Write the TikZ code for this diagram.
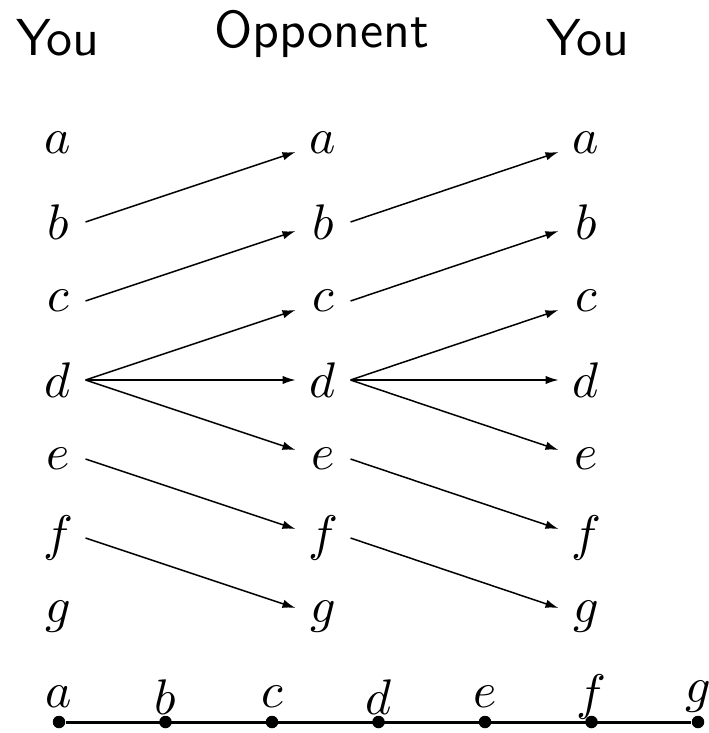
\documentclass[tikz,border=0pt]{standalone}
\usepackage{amsmath, amssymb}
\usetikzlibrary{arrows.meta}

\begin{document}
\begin{tikzpicture}[x=0.2pt, y=-0.2pt,
    spot/.style={minimum width=10.6pt, inner xsep=0pt},
    move/.style={line width=0.3pt, -{Latex[length=2.6pt, width=1.7pt]}},
    player/.style={font=\sffamily\fontsize{10.4pt}{12pt}\selectfont, anchor=base},
    vertex/.style={circle, fill, inner sep=0pt, minimum size=2.5pt}]
    \useasboundingbox (0,0) rectangle (708,733);

    % Players
    \node[player] (you1) at (58,55) {You};
    \node[player] (opp) at (322,47) {Opponent};
    \node[player] (you2) at (588,55) {You};

    % Positions, first column
    \node[spot] (a1) at (58,143) {$a$};
    \node[spot] (b1) at (58,222) {$b$};
    \node[spot] (c1) at (58,301) {$c$};
    \node[spot] (d1) at (58,380) {$d$};
    \node[spot] (e1) at (58,459) {$e$};
    \node[spot] (f1) at (58,538) {$f$};
    \node[spot] (g1) at (58,617) {$g$};

    % Positions, second column
    \node[spot] (a2) at (323,143) {$a$};
    \node[spot] (b2) at (323,222) {$b$};
    \node[spot] (c2) at (323,301) {$c$};
    \node[spot] (d2) at (323,380) {$d$};
    \node[spot] (e2) at (323,459) {$e$};
    \node[spot] (f2) at (323,538) {$f$};
    \node[spot] (g2) at (323,617) {$g$};

    % Positions, third column
    \node[spot] (a3) at (586,143) {$a$};
    \node[spot] (b3) at (586,222) {$b$};
    \node[spot] (c3) at (586,301) {$c$};
    \node[spot] (d3) at (586,380) {$d$};
    \node[spot] (e3) at (586,459) {$e$};
    \node[spot] (f3) at (586,538) {$f$};
    \node[spot] (g3) at (586,617) {$g$};

    % Moves, first to second column
    \draw[move] (b1.east) -- ([yshift=-1.8pt]a2.west);
    \draw[move] (c1.east) -- ([yshift=-1.8pt]b2.west);
    \draw[move] (d1.east) -- ([yshift=-1.8pt]c2.west);
    \draw[move] (d1) -- (d2);
    \draw[move] (d1.east) -- ([yshift=1.8pt]e2.west);
    \draw[move] (e1.east) -- ([yshift=1.8pt]f2.west);
    \draw[move] (f1.east) -- ([yshift=1.8pt]g2.west);

    % Moves, second to third column
    \draw[move] (b2.east) -- ([yshift=-1.8pt]a3.west);
    \draw[move] (c2.east) -- ([yshift=-1.8pt]b3.west);
    \draw[move] (d2.east) -- ([yshift=-1.8pt]c3.west);
    \draw[move] (d2) -- (d3);
    \draw[move] (d2.east) -- ([yshift=1.8pt]e3.west);
    \draw[move] (e2.east) -- ([yshift=1.8pt]f3.west);
    \draw[move] (f2.east) -- ([yshift=1.8pt]g3.west);

    % The line
    \node[vertex] (pa) at (59,722) {};
    \node[vertex] (pb) at (165.5,722) {};
    \node[vertex] (pc) at (272,722) {};
    \node[vertex] (pd) at (378.5,722) {};
    \node[vertex] (pe) at (485,722) {};
    \node[vertex] (pf) at (591.5,722) {};
    \node[vertex] (pg) at (698,722) {};
    \draw[semithick] (pa) -- (pg);

    % Labels
    \node (ta) at (59,697) {$a$};
    \node (tb) at (165.5,697) {$b$};
    \node (tc) at (272,697) {$c$};
    \node (td) at (378.5,697) {$d$};
    \node (te) at (485,697) {$e$};
    \node (tf) at (591.5,697) {$f$};
    \node (tg) at (698,697) {$g$};
\end{tikzpicture}
\end{document}
